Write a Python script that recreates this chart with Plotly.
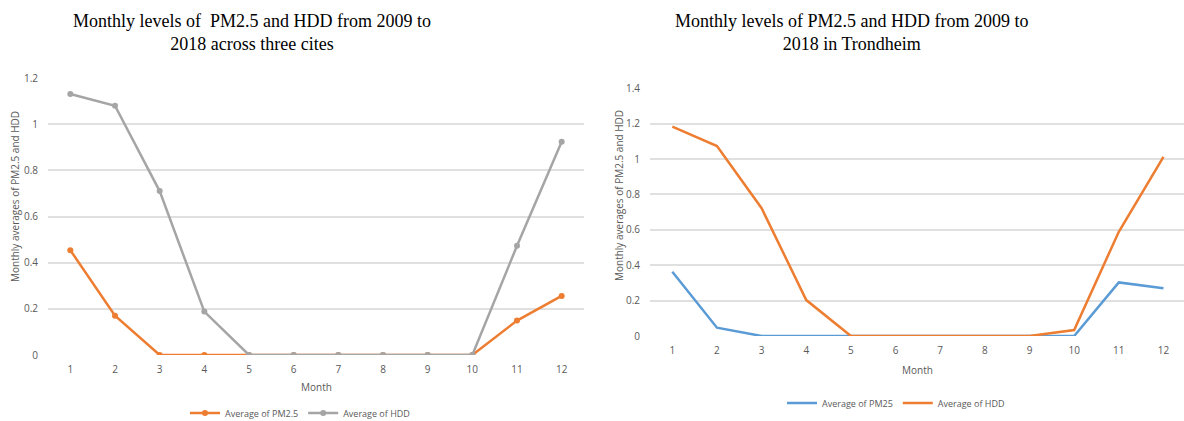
import plotly.graph_objects as go

# Monthly averages (normalised) of PM2.5 and heating degree days
months = list(range(1, 13))
month_labels = [str(m) for m in months]

pm25_three_cities = [0.454, 0.170, 0.0, 0.0, 0.0, 0.0, 0.0, 0.0, 0.0, 0.0, 0.149, 0.256]
hdd_three_cities = [1.131, 1.080, 0.710, 0.188, 0.0, 0.0, 0.0, 0.0, 0.0, 0.0, 0.473, 0.924]

pm25_trondheim = [0.363, 0.047, 0.0, 0.0, 0.0, 0.0, 0.0, 0.0, 0.0, 0.0, 0.303, 0.270]
hdd_trondheim = [1.183, 1.074, 0.722, 0.203, 0.0, 0.0, 0.0, 0.0, 0.0, 0.034, 0.589, 1.013]

left_title = "Monthly levels of  PM2.5 and HDD from 2009 to<br>2018 across three cites"
right_title = "Monthly levels of PM2.5 and HDD from 2009 to<br>2018 in Trondheim"
y_title = "Monthly averages of PM2.5 and HDD"

ORANGE = "#ED7D31"
GREY = "#A5A5A5"
BLUE = "#5B9BD5"
TICK = "#595959"
GRID = "#E0E0E0"

W, H = 1184, 421

fig = go.Figure()

fig.add_trace(go.Scatter(
    x=months, y=pm25_three_cities, name="Average of PM2.5", mode="lines+markers",
    line=dict(color=ORANGE, width=2.5), marker=dict(color=ORANGE, size=6),
    xaxis="x", yaxis="y", legend="legend"))
fig.add_trace(go.Scatter(
    x=months, y=hdd_three_cities, name="Average of HDD", mode="lines+markers",
    line=dict(color=GREY, width=2.5), marker=dict(color=GREY, size=6),
    xaxis="x", yaxis="y", legend="legend"))

fig.add_trace(go.Scatter(
    x=months, y=pm25_trondheim, name="Average of PM25", mode="lines",
    line=dict(color=BLUE, width=2.5),
    xaxis="x2", yaxis="y2", legend="legend2"))
fig.add_trace(go.Scatter(
    x=months, y=hdd_trondheim, name="Average of HDD", mode="lines",
    line=dict(color=ORANGE, width=2.5),
    xaxis="x2", yaxis="y2", legend="legend2"))

tick_font = dict(family="Open Sans, Liberation Sans, sans-serif", size=10, color=TICK)

def xaxis(domain, anchor, rng):
    return dict(domain=domain, anchor=anchor, range=rng, tickmode="array",
                tickvals=months, ticktext=month_labels, showgrid=False,
                zeroline=False, showline=False, ticks="", tickfont=tick_font,
                ticklabelstandoff=7, fixedrange=True)

def yaxis(domain, anchor, rng, dtick):
    return dict(domain=domain, anchor=anchor, range=rng, dtick=dtick,
                showgrid=True, gridcolor=GRID, gridwidth=2, zeroline=False,
                showline=False, ticks="", tickfont=tick_font,
                ticklabelstandoff=9, fixedrange=True)

legend_font = dict(family="Open Sans, sans-serif", size=9, color=TICK)

fig.update_layout(
    width=W, height=H,
    margin=dict(l=0, r=0, t=0, b=0, autoexpand=False),
    paper_bgcolor="white", plot_bgcolor="white",
    xaxis=xaxis([48 / W, 584 / W], "y", [0.5, 12.5]),
    yaxis=yaxis([1 - 355 / H, 1 - 78 / H], "x", [0, 1.2], 0.2),
    xaxis2=xaxis([650 / W, 1.0], "y2", [0.5, 12.46]),
    yaxis2=yaxis([1 - 336 / H, 1 - 88.3 / H], "x2", [0, 1.4], 0.2),
    legend=dict(orientation="h", x=300 / W, xanchor="center", y=1 - 413 / H,
                yanchor="middle", font=legend_font,
                bgcolor="rgba(0,0,0,0)", itemwidth=30, tracegroupgap=0),
    legend2=dict(orientation="h", x=896 / W, xanchor="center", y=1 - 403 / H,
                 yanchor="middle", font=legend_font,
                 bgcolor="rgba(0,0,0,0)", itemwidth=30, tracegroupgap=0),
    showlegend=True,
)

title_font = dict(family="Liberation Serif, Times New Roman, serif", size=18, color="black")
axis_font = dict(family="Open Sans, Liberation Sans, sans-serif", size=10, color=TICK)

annotations = [
    dict(text=left_title, x=252 / W, y=1 - 32 / H, xref="paper", yref="paper",
         showarrow=False, font=title_font, xanchor="center", yanchor="middle"),
    dict(text=right_title, x=851 / W, y=1 - 32 / H, xref="paper", yref="paper",
         showarrow=False, font=title_font, xanchor="center", yanchor="middle"),
    dict(text=y_title, x=15 / W, y=1 - 197 / H, xref="paper", yref="paper",
         showarrow=False, font=axis_font, textangle=-90, xanchor="center", yanchor="middle"),
    dict(text=y_title, x=619 / W, y=1 - 196 / H, xref="paper", yref="paper",
         showarrow=False, font=axis_font, textangle=-90, xanchor="center", yanchor="middle"),
    dict(text="Month", x=316 / W, y=1 - 387 / H, xref="paper", yref="paper",
         showarrow=False, font=axis_font, xanchor="center", yanchor="middle"),
    dict(text="Month", x=917 / W, y=1 - 370 / H, xref="paper", yref="paper",
         showarrow=False, font=axis_font, xanchor="center", yanchor="middle"),
]
fig.update_layout(annotations=annotations)

fig.write_html("out.html")
